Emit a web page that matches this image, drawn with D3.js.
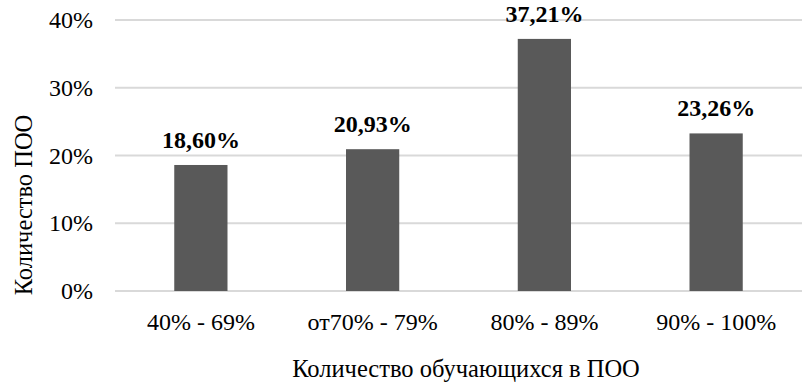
<!DOCTYPE html>
<html>
<head>
<meta charset="utf-8">
<script src="https://cdn.jsdelivr.net/npm/d3@7"></script>
<style>
  body { margin: 0; background: #fff; }
  text { font-family: "Liberation Serif", "Times New Roman", serif; fill: #000; }
</style>
</head>
<body>
<div id="chart"></div>
<script>
// data
const categories = ["40% - 69%", "от70% - 79%", "80% - 89%", "90% - 100%"];
const values = [18.60, 20.93, 37.21, 23.26];
const yTicks = [0, 10, 20, 30, 40];

var margin = {top: 20, right: 7, bottom: 101, left: 115},
    width = 809 - margin.left - margin.right,
    height = 392 - margin.top - margin.bottom;

const svg = d3.select("#chart")
  .append("svg")
    .attr("width", 809)
    .attr("height", 392);

const g = svg.append("g")
    .attr("transform", `translate(${margin.left}, ${margin.top})`);

const x = d3.scaleBand()
    .domain(categories)
    .range([0, width])
    .paddingInner(0.69)
    .paddingOuter(0.345);

const y = d3.scaleLinear()
    .domain([0, 40])
    .range([height, 0]);

// gridlines
g.append("g")
  .selectAll("line")
  .data(yTicks)
  .join("line")
    .attr("x1", 0)
    .attr("x2", width)
    .attr("y1", d => y(d))
    .attr("y2", d => y(d))
    .attr("stroke", "#d9d9d9")
    .attr("stroke-width", 2);

// y axis labels
const yAxis = g.append("g")
    .call(d3.axisLeft(y).tickValues(yTicks).tickFormat(d => d + "%").tickSize(0).tickPadding(22));
yAxis.select(".domain").remove();
yAxis.selectAll("text")
    .style("font-family", "Liberation Serif")
    .style("font-size", "24px")
    .attr("fill", "#000");

// x axis labels
const xAxis = g.append("g")
    .attr("transform", `translate(0, ${height})`)
    .call(d3.axisBottom(x).tickSize(0).tickPadding(22));
xAxis.select(".domain").remove();
xAxis.selectAll("text")
    .style("font-family", "Liberation Serif")
    .style("font-size", "24px")
    .attr("fill", "#000");

// bars
g.selectAll(".bar")
  .data(values)
  .join("rect")
    .attr("class", "bar")
    .attr("x", (d, i) => x(categories[i]))
    .attr("y", d => y(d))
    .attr("width", x.bandwidth())
    .attr("height", d => height - y(d))
    .attr("fill", "#595959");

// value labels
g.selectAll(".label")
  .data(values)
  .join("text")
    .attr("class", "label")
    .attr("x", (d, i) => x(categories[i]) + x.bandwidth() / 2)
    .attr("y", d => y(d) - 17)
    .attr("text-anchor", "middle")
    .style("font-size", "24px")
    .style("font-weight", "bold")
    .text(d => d.toFixed(2).replace(".", ",") + "%");

// axis titles
svg.append("text")
    .attr("x", 466)
    .attr("y", 377)
    .attr("text-anchor", "middle")
    .style("font-size", "24.5px")
    .text("Количество обучающихся в ПОО");

svg.append("text")
    .attr("transform", "translate(32, 205) rotate(-90)")
    .attr("text-anchor", "middle")
    .style("font-size", "24.5px")
    .text("Количество ПОО");
</script>
</body>
</html>
